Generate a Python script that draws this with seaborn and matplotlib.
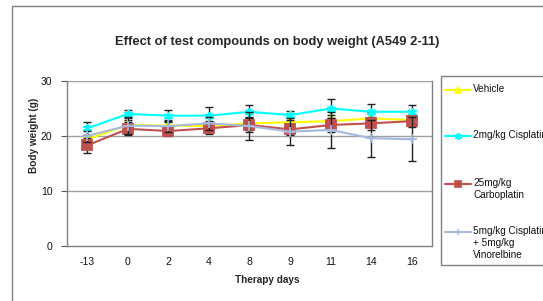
import numpy as np
import pandas as pd
import seaborn as sns
import matplotlib.pyplot as plt
from matplotlib.lines import Line2D
from matplotlib.patches import Rectangle

days = ["-13", "0", "2", "4", "8", "9", "11", "14", "16"]

vehicle = [19.4, 22.0, 21.9, 21.8, 22.3, 22.5, 22.7, 23.2, 22.9]
vehicle_err = [0.8, 1.0, 1.0, 1.0, 1.2, 1.0, 1.2, 1.2, 1.0]

cis2 = [21.4, 24.0, 23.7, 23.7, 24.4, 23.8, 25.0, 24.4, 24.4]
cis2_err = [1.2, 0.8, 1.1, 1.5, 1.2, 0.8, 1.7, 1.4, 1.3]

carbo = [18.3, 21.3, 20.9, 21.4, 22.0, 21.2, 22.0, 22.3, 22.7]
carbo_err = [1.3, 1.2, 0.9, 1.0, 1.2, 1.0, 1.2, 1.2, 1.0]

combo = [20.0, 21.9, 21.8, 22.3, 21.8, 20.8, 21.1, 19.6, 19.4]
combo_err = [1.0, 1.5, 1.0, 1.2, 2.5, 2.4, 3.2, 3.4, 4.0]

labels = ["Vehicle", "2mg/kg Cisplatin", "25mg/kg\nCarboplatin",
          "5mg/kg Cisplatin\n+ 5mg/kg\nVinorelbine"]
colors = ["#FFFF00", "#00FFFF", "#C0504D", "#A5B9DF"]
markers = ["^", (6, 2, 0), "s", "+"]

series = [(vehicle, vehicle_err), (cis2, cis2_err), (carbo, carbo_err), (combo, combo_err)]
frames = []
for lab, (vals, errs) in zip(labels, series):
    frames.append(pd.DataFrame({"day": days, "weight": vals, "err": errs, "group": lab}))
df = pd.concat(frames, ignore_index=True)

sns.set_style("white")
plt.rcParams["font.family"] = ["Liberation Sans", "DejaVu Sans"]

fig = plt.figure(figsize=(5.43, 3.01), dpi=100)
ax = fig.add_axes([67 / 543, 55 / 301, 365 / 543, 165 / 301])

x = np.arange(len(days))
for i, (lab, col, mk) in enumerate(zip(labels, colors, markers)):
    sub = df[df["group"] == lab]
    ax.errorbar(x, sub["weight"], yerr=sub["err"], fmt="none", ecolor="#222222",
                elinewidth=1.0, capsize=3, capthick=1.0, zorder=2 + i)
    sns.lineplot(x=x, y=sub["weight"].values, ax=ax, color=col, marker=mk,
                 markersize=6.5, markeredgecolor=col,
                 markeredgewidth=1.3, linewidth=1.5, zorder=3 + i, legend=False)

ax.set_xlim(-0.5, len(days) - 0.5)
ax.set_ylim(0, 30)
ax.set_yticks([0, 10, 20, 30])
ax.set_xticks(x)
ax.set_xticklabels(days)
ax.set_xticks(np.arange(-0.5, len(days)), minor=True)
ax.tick_params(axis="x", which="major", length=0, labelsize=7.5, pad=8, labelcolor="#111111")
ax.tick_params(axis="x", which="minor", length=4, direction="out", color="#555555", width=0.8)
ax.tick_params(axis="y", length=4, direction="out", labelsize=7.5, color="#555555",
               width=0.8, left=True, pad=6.5, labelcolor="#111111")
for y in [10, 20, 30]:
    ax.axhline(y, color="#A0A0A0", linewidth=1.0, zorder=1)
for s in ["left", "bottom", "right"]:
    ax.spines[s].set_color("#808080")
    ax.spines[s].set_linewidth(1.0)
ax.spines["top"].set_visible(False)

ax.set_xlabel("Therapy days", fontsize=7.2, fontweight="bold")
ax.set_ylabel("Body weight (g)", fontsize=7.2, fontweight="bold")
ax.xaxis.set_label_coords((267 - 67) / 365, (246 - 280) / 165)
ax.yaxis.set_label_coords((34 - 67) / 365, (246 - 135) / 165)
ax.xaxis.label.set_va("center")
ax.yaxis.label.set_va("center")
fig.text(277 / 543, 1 - 42 / 301, "Effect of test compounds on body weight (A549 2-11)",
         fontsize=9.3, fontweight="bold", ha="center", va="center")

# legend box drawn by hand so that handles line up with the first text line
fig.patches.append(Rectangle((441 / 543, 1 - 265 / 301), 0.3, 189 / 301,
                             transform=fig.transFigure, fill=False,
                             edgecolor="#808080", linewidth=1.0))
entry_y = [90, 136, 184, 232]
for lab, col, mk, yy in zip(labels, colors, markers, entry_y):
    yf = 1 - yy / 301
    fig.lines.append(Line2D([445 / 543, 471 / 543], [yf, yf], transform=fig.transFigure,
                            color=col, linewidth=1.5))
    fig.lines.append(Line2D([458 / 543], [yf], transform=fig.transFigure, color=col,
                            marker=mk, markersize=5, markeredgecolor=col,
                            markeredgewidth=1.2, linestyle="none"))
    fig.text(473 / 543, 1 - (yy - 6) / 301, lab, fontsize=7.2, va="top", ha="left",
             linespacing=1.25, color="#111111")

fig.patches.append(Rectangle((12 / 543, -0.1), 1.2, 1.1 - 6 / 301, transform=fig.transFigure,
                             fill=False, edgecolor="#808080", linewidth=1.0))

fig.savefig("out.png", dpi=100)
